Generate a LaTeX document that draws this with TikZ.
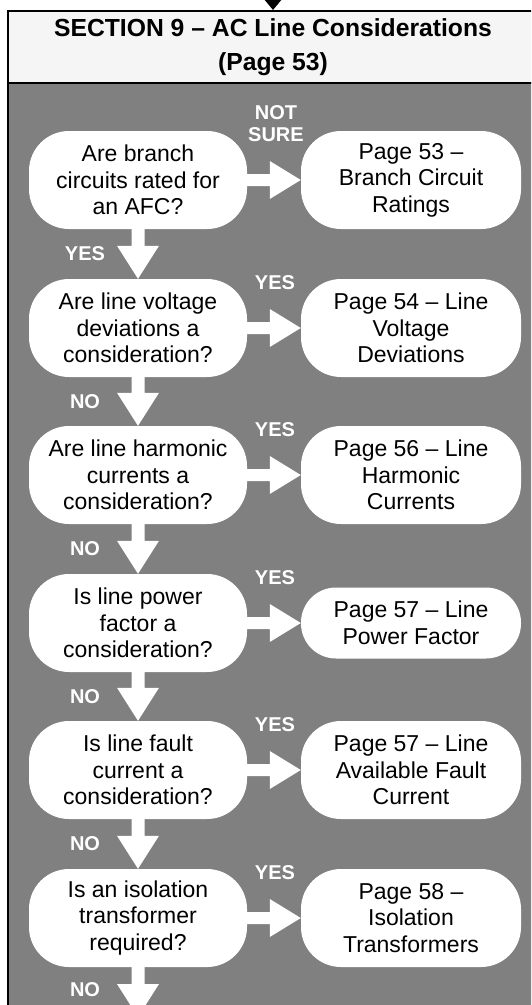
\documentclass[tikz,border=0pt]{standalone}
\usepackage{fontspec}
\setmainfont{Liberation Sans}
\usetikzlibrary{calc,arrows.meta}
\definecolor{panelgray}{RGB}{128,128,128}
\definecolor{headfill}{RGB}{245,245,245}

% white block arrow from the right side of #1 to the point #2
\newcommand\rightblock[2]{%
  \fill[white] ($(#1.east)+(-3,-6)$) -- ($(#2)+(-31,-6)$) -- ($(#2)+(-31,-19)$)
    -- (#2) -- ($(#2)+(-31,19)$) -- ($(#2)+(-31,6)$) -- ($(#1.east)+(-3,6)$) -- cycle;}
% white block arrow from the bottom of #1 down to the point #2
\newcommand\downblock[2]{%
  \fill[white] ($(#1.south)+(-6.5,-3)$) -- ($(#2)+(-6.5,-33)$) -- ($(#2)+(-21,-33)$)
    -- (#2) -- ($(#2)+(21,-33)$) -- ($(#2)+(6.5,-33)$) -- ($(#1.south)+(6.5,-3)$) -- cycle;}

\tikzset{
  question/.style={fill=white, rounded corners=40pt, minimum width=218pt,
    minimum height=98pt, inner sep=0pt, align=center,
    font=\fontsize{23}{26.5}\selectfont},
  answer/.style={question, minimum width=220pt},
  flag/.style={text=white, font=\bfseries\fontsize{20}{22}\selectfont,
    align=center, inner sep=0pt},
}

\begin{document}
\begin{tikzpicture}[x=1pt,y=-1pt]
\useasboundingbox (0,0) rectangle (531,1005);
\clip (0,0) rectangle (531,1005);

% grey panel with its left rule
\fill[panelgray] (8,82) rectangle (545,1020);
\draw[line width=2pt] (8,82) -- (8,1020);

% section header
\node[draw, line width=1.5pt, fill=headfill, minimum width=530pt,
  minimum height=72pt, inner sep=0pt, align=center,
  font=\bfseries\fontsize{24.7}{34}\selectfont] (hdr) at (273,46.75)
  {SECTION 9 – AC Line Considerations\\(Page 53)};
\coordinate (entry) at (273,-20);
\draw[line width=1.5pt, -{Triangle[length=10.5pt,width=17pt]}] (entry) -- (hdr.north);

% questions
\node[question] (q1) at (138,180) {Are branch\\circuits rated for\\an AFC?};
\node[question] (q2) at (138,328) {Are line voltage\\deviations a\\consideration?};
\node[question] (q3) at (138,475) {Are line harmonic\\currents a\\consideration?};
\node[question] (q4) at (138,623) {Is line power\\factor a\\consideration?};
\node[question] (q5) at (138,770) {Is line fault\\current a\\consideration?};
\node[question] (q6) at (138,918) {Is an isolation\\transformer\\required?};

% page references
\node[answer] (a1) at (411,180) {Page 53 –\\Branch Circuit\\Ratings};
\node[answer] (a2) at (411,328) {Page 54 – Line\\Voltage\\Deviations};
\node[answer] (a3) at (411,475) {Page 56 – Line\\Harmonic\\Currents};
\node[answer, minimum height=71pt, rounded corners=35pt] (a4) at (411,623) {Page 57 – Line\\Power Factor};
\node[answer] (a5) at (411,770) {Page 57 – Line\\Available Fault\\Current};
\node[answer] (a6) at (411,918) {Page 58 –\\Isolation\\Transformers};

% branches to the right
\rightblock{q1}{a1.west}
\rightblock{q2}{a2.west}
\rightblock{q3}{a3.west}
\rightblock{q4}{a4.west}
\rightblock{q5}{a5.west}
\rightblock{q6}{a6.west}

% main flow downwards
\coordinate (exit) at (138,1017);
\downblock{q1}{q2.north}
\downblock{q2}{q3.north}
\downblock{q3}{q4.north}
\downblock{q4}{q5.north}
\downblock{q5}{q6.north}
\downblock{q6}{exit}

% branch labels
\node[flag] (r1) at (276,124) {NOT\\SURE};
\node[flag] (r2) at (275,283) {YES};
\node[flag] (r3) at (275,430) {YES};
\node[flag] (r4) at (275,578) {YES};
\node[flag] (r5) at (275,725) {YES};
\node[flag] (r6) at (275,873) {YES};

\node[flag] (d1) at (85,254) {YES};
\node[flag] (d2) at (85,402) {NO};
\node[flag] (d3) at (85,549) {NO};
\node[flag] (d4) at (85,697) {NO};
\node[flag] (d5) at (85,844) {NO};
\node[flag] (d6) at (85,990) {NO};
\end{tikzpicture}
\end{document}
